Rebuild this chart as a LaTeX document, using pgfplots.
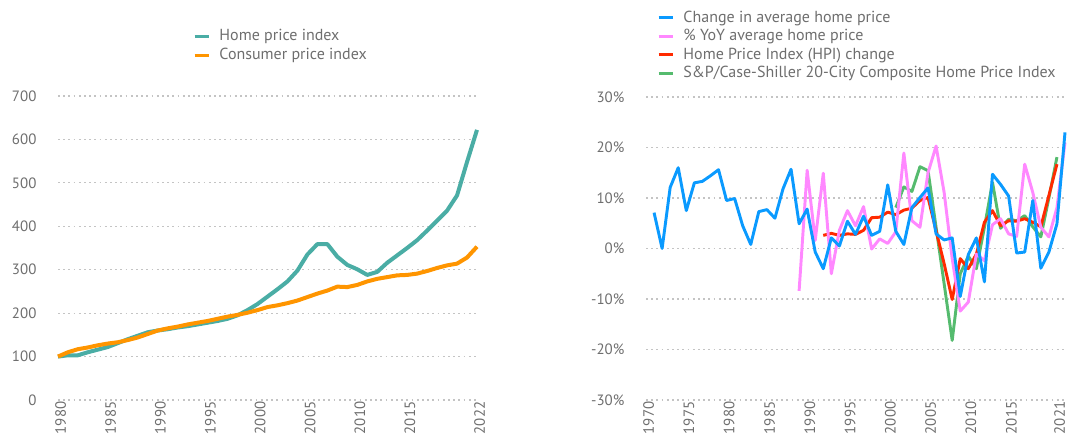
\documentclass[border=0pt]{standalone}
\usepackage{fontspec}
\setmainfont{PT Sans}
\usepackage{pgfplots}
\usepackage{pgfplotstable}
\pgfplotsset{compat=1.18}
\definecolor{txt}{HTML}{6E6E6E}
\definecolor{teal1}{HTML}{4AADA5}
\definecolor{orng}{HTML}{FF9500}
\definecolor{blu}{HTML}{0A9AFF}
\definecolor{pnk}{HTML}{FF88FF}
\definecolor{rd}{HTML}{FF2A00}
\definecolor{grn}{HTML}{55BB6E}
\definecolor{grd}{HTML}{C4C4C4}

\pgfplotstableread{
year hpi cpi
1980 100 100
1981 103 110
1982 103 117
1983 110 121
1984 116 126
1985 122 130
1986 131 133
1987 140 138
1988 148 144
1989 156 152
1990 160 160
1991 163 165
1992 167 169
1993 170 174
1994 174 178
1995 178 182
1996 182 187
1997 187 192
1998 195 196
1999 207 201
2000 221 207
2001 238 214
2002 255 218
2003 273 223
2004 298 229
2005 335 237
2006 359 245
2007 359 252
2008 330 261
2009 311 260
2010 301 265
2011 288 273
2012 295 279
2013 316 283
2014 333 287
2015 350 288
2016 368 291
2017 390 297
2018 413 304
2019 436 310
2020 471 314
2021 548 328
2022 622 353
}\lefttable

\pgfplotstableread{
year val
1971 7.1
1972 0.0
1973 12.1
1974 16.0
1975 7.5
1976 13.0
1977 13.3
1978 14.4
1979 15.6
1980 9.5
1981 9.9
1982 4.5
1983 0.8
1984 7.3
1985 7.7
1986 6.0
1987 11.8
1988 15.7
1989 4.9
1990 7.8
1991 -0.7
1992 -4.0
1993 2.1
1994 0.5
1995 5.4
1996 2.8
1997 6.4
1998 2.6
1999 3.4
2000 12.6
2001 3.4
2002 0.8
2003 8.1
2004 10.1
2005 12.0
2006 2.9
2007 1.7
2008 2.1
2009 -9.5
2010 -1.2
2011 2.1
2012 -6.6
2013 14.7
2014 12.7
2015 10.4
2016 -0.9
2017 -0.7
2018 9.5
2019 -3.9
2020 -0.7
2021 4.9
2022 23.0
}\bluetable

\pgfplotstableread{
year val
1989 -8.4
1990 15.5
1991 1.6
1992 14.9
1993 -5.0
1994 3.6
1995 7.5
1996 4.5
1997 8.3
1998 -0.1
1999 1.9
2000 1.0
2001 3.3
2002 18.9
2003 5.5
2004 4.2
2005 15.0
2006 20.3
2007 11.1
2008 -2.0
2009 -12.4
2010 -10.6
2011 -1.1
2012 -2.4
2013 4.7
2014 5.9
2015 2.9
2016 2.4
2017 16.7
2018 11.1
2019 4.2
2020 2.3
2021 8.1
2022 21.0
}\pinktable

\pgfplotstableread{
year val
1992 2.6
1993 3.0
1994 2.6
1995 2.9
1996 2.8
1997 3.6
1998 6.1
1999 6.2
2000 7.2
2001 6.7
2002 7.6
2003 8.0
2004 9.5
2005 10.1
2006 3.5
2007 -3.0
2008 -10.1
2009 -2.0
2010 -4.0
2011 -1.1
2012 5.2
2013 7.5
2014 4.5
2015 5.5
2016 5.4
2017 5.9
2018 5.2
2019 4.3
2020 10.5
2021 16.7
}\redtable

\pgfplotstableread{
year val
2001 8.1
2002 12.2
2003 11.3
2004 16.2
2005 15.4
2006 4.2
2007 -7.0
2008 -18.2
2009 -5.0
2010 -1.5
2011 -4.0
2012 4.2
2013 13.1
2014 4.0
2015 5.8
2016 5.5
2017 6.5
2018 4.3
2019 2.3
2020 10.0
2021 18.1
}\greentable

\pgfplotsset{
 common/.style={
  scale only axis, clip=false,
  axis line style={draw=none},
  major tick length=0pt,
  tick style={draw=none},
  ymajorgrids,
  grid style={grd, line width=0.9pt, dash pattern=on 1.3pt off 2.6pt},
  tick label style={font=\fontsize{11.2}{13}\selectfont, text=txt},
  xticklabel style={rotate=90, anchor=east, inner sep=1pt, yshift=-2pt},
  yticklabel style={anchor=east, inner sep=0pt, xshift=-16pt},
  legend style={draw=none, fill=none, font=\fontsize{12}{14}\selectfont, text=txt,
    inner sep=0pt, row sep=2.1pt, column sep=6.5pt,
    nodes={inner sep=0pt, text height=9pt, text depth=2.8pt}},
  legend cell align=left,
  legend image code/.code={\draw[#1, line width=2.2pt] (0pt,0pt) -- (11pt,0pt);},
 }
}

\begin{document}
\begin{tikzpicture}
\useasboundingbox (0,0) rectangle (802.5pt,329.25pt);
\begin{axis}[common,
  at={(43.5pt,29.25pt)}, anchor=south west,
  width=314.25pt, height=228pt,
  xmin=1980, xmax=2022, ymin=0, ymax=700,
  xtick={1980,1985,1990,1995,2000,2005,2010,2015,2022},
  xticklabels={1980,1985,1990,1995,2000,2005,2010,2015,2022},
  ytick={0,100,200,300,400,500,600,700},
  yticklabels={0,100,200,300,400,500,600,700},
  legend style={at={(0.322,1.222)}, anchor=north west},
]
\addplot[teal1, line width=3pt, line join=round] table[x=year, y=hpi] {\lefttable};
\addlegendentry{Home price index}
\addplot[orng, line width=3pt, line join=round] table[x=year, y=cpi] {\lefttable};
\addlegendentry{Consumer price index}
\end{axis}

\begin{axis}[common,
  at={(484.5pt,29.25pt)}, anchor=south west,
  width=314.25pt, height=227.25pt,
  xmin=1970, xmax=2022, ymin=-30, ymax=30,
  xtick={1970,1975,1980,1985,1990,1995,2000,2005,2010,2015,2021},
  xticklabels={1970,1975,1980,1985,1990,1995,2000,2005,2010,2015,2021},
  ytick={-30,-20,-10,0,10,20,30},
  yticklabels={-30\%,-20\%,-10\%,0\%,10\%,20\%,30\%},
  legend style={at={(0.026,1.288)}, anchor=north west},
  reverse legend,
]
\addplot[grn, line width=2.2pt, line join=round] table[x=year, y=val] {\greentable};
\addlegendentry{S\&P/Case-Shiller 20-City Composite Home Price Index}
\addplot[rd, line width=2.2pt, line join=round] table[x=year, y=val] {\redtable};
\addlegendentry{Home Price Index (HPI) change}
\addplot[pnk, line width=2.2pt, line join=round] table[x=year, y=val] {\pinktable};
\addlegendentry{\% YoY average home price}
\addplot[blu, line width=2.2pt, line join=round] table[x=year, y=val] {\bluetable};
\addlegendentry{Change in average home price}
\end{axis}
\end{tikzpicture}
\end{document}
